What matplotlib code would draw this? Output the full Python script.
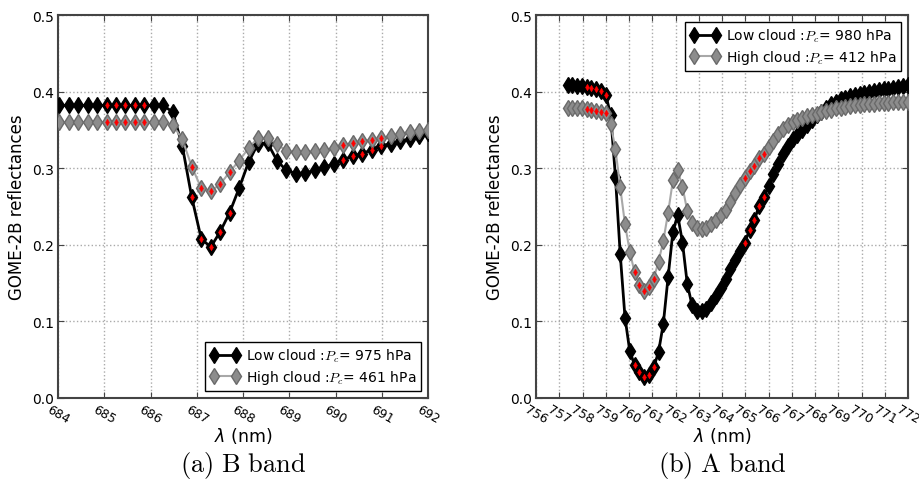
import matplotlib
matplotlib.use("Agg")
import matplotlib.pyplot as plt
from matplotlib.font_manager import FontProperties

# ---------------- data: B band ----------------
wl_b = [684.027, 684.231, 684.436, 684.641, 684.845, 685.050, 685.255, 685.459,
        685.664, 685.869, 686.074, 686.278, 686.483, 686.688, 686.892, 687.097,
        687.302, 687.506, 687.711, 687.916, 688.121, 688.325, 688.530, 688.735,
        688.939, 689.144, 689.349, 689.553, 689.758, 689.963, 690.168, 690.372,
        690.577, 690.782, 690.986, 691.191, 691.396, 691.600, 691.805, 692.010]
low_b = [0.382, 0.382, 0.382, 0.382, 0.382, 0.382, 0.382, 0.382,
         0.382, 0.382, 0.382, 0.382, 0.373, 0.329, 0.262, 0.208,
         0.197, 0.217, 0.242, 0.274, 0.308, 0.332, 0.333, 0.310,
         0.297, 0.293, 0.294, 0.297, 0.301, 0.306, 0.311, 0.316,
         0.319, 0.324, 0.329, 0.332, 0.335, 0.338, 0.342, 0.346]
high_b = [0.360, 0.360, 0.360, 0.360, 0.360, 0.360, 0.360, 0.360,
          0.360, 0.360, 0.360, 0.360, 0.356, 0.338, 0.302, 0.274,
          0.270, 0.279, 0.295, 0.310, 0.326, 0.340, 0.339, 0.332,
          0.322, 0.321, 0.321, 0.322, 0.324, 0.326, 0.330, 0.333,
          0.335, 0.337, 0.339, 0.342, 0.345, 0.347, 0.349, 0.350]
sel_b = [5, 6, 7, 8, 9, 14, 15, 16, 17, 18, 30, 31, 32, 33, 34]

# ---------------- data: A band ----------------
wl_a = [757.356, 757.562, 757.768, 757.974, 758.180, 758.386, 758.592, 758.798,
        759.004, 759.210, 759.416, 759.622, 759.828, 760.034, 760.240, 760.446,
        760.652, 760.858, 761.064, 761.270, 761.476, 761.682, 761.888, 762.094,
        762.300, 762.506, 762.712, 762.918, 763.124, 763.330, 763.536, 763.742,
        763.948, 764.154, 764.360, 764.566, 764.772, 764.978, 765.184, 765.390,
        765.596, 765.802, 766.008, 766.214, 766.420, 766.626, 766.832, 767.038,
        767.244, 767.450, 767.656, 767.862, 768.068, 768.274, 768.480, 768.686,
        768.892, 769.098, 769.304, 769.510, 769.716, 769.922, 770.128, 770.334,
        770.540, 770.746, 770.952, 771.158, 771.364, 771.570, 771.776, 771.982]
low_a = [0.408, 0.408, 0.407, 0.407, 0.406, 0.405, 0.403, 0.401,
         0.395, 0.370, 0.289, 0.188, 0.105, 0.061, 0.043, 0.034,
         0.028, 0.030, 0.040, 0.060, 0.097, 0.158, 0.217, 0.239,
         0.203, 0.149, 0.121, 0.114, 0.113, 0.116, 0.124, 0.133,
         0.144, 0.156, 0.168, 0.180, 0.192, 0.203, 0.219, 0.232,
         0.251, 0.263, 0.277, 0.292, 0.306, 0.318, 0.329, 0.338,
         0.343, 0.350, 0.357, 0.363, 0.369, 0.374, 0.379, 0.384,
         0.387, 0.390, 0.392, 0.394, 0.396, 0.397, 0.398, 0.399,
         0.401, 0.402, 0.403, 0.404, 0.405, 0.406, 0.407, 0.408]
high_a = [0.378, 0.378, 0.378, 0.378, 0.377, 0.376, 0.375, 0.374,
          0.372, 0.358, 0.325, 0.275, 0.227, 0.191, 0.164, 0.148,
          0.140, 0.145, 0.156, 0.178, 0.205, 0.242, 0.284, 0.297,
          0.276, 0.244, 0.229, 0.222, 0.220, 0.222, 0.227, 0.233,
          0.239, 0.245, 0.256, 0.268, 0.278, 0.287, 0.296, 0.303,
          0.313, 0.319, 0.328, 0.336, 0.345, 0.351, 0.356, 0.360,
          0.363, 0.366, 0.368, 0.370, 0.371, 0.373, 0.375, 0.376,
          0.378, 0.379, 0.380, 0.381, 0.382, 0.383, 0.384, 0.384,
          0.384, 0.385, 0.385, 0.385, 0.386, 0.386, 0.386, 0.386]
sel_a = [4, 5, 6, 7, 8, 14, 15, 16, 17, 18, 37, 38, 39, 40, 41]

xticks_b = list(range(684, 693))
xticks_a = list(range(756, 773))
yticks = [0.0, 0.1, 0.2, 0.3, 0.4, 0.5]

label_low_b = r'Low cloud :$P_c$= 975 hPa'
label_high_b = r'High cloud :$P_c$= 461 hPa'
label_low_a = r'Low cloud :$P_c$= 980 hPa'
label_high_a = r'High cloud :$P_c$= 412 hPa'
caption_b = r'$\mathrm{(a)\ B\ band}$'
caption_a = r'$\mathrm{(b)\ A\ band}$'

# ---------------- figure ----------------
fig = plt.figure(figsize=(9.2, 4.81), dpi=100)
ax1 = fig.add_axes([58/920, 1-399/481, 370/920, 383/481])
ax2 = fig.add_axes([536/920, 1-399/481, 372/920, 383/481])

spine_col = '#444444'


def draw(ax, wl, low, high, sel, xt, lab_low, lab_high, loc, caption):
    ax.plot(wl, low, '-', color='black', lw=2.0, marker='d', ms=8.5,
            mfc='black', mec='black', mew=1.0, label=lab_low, zorder=3)
    ax.plot(wl, high, '-', color='#a8a8a8', lw=1.5, marker='d', ms=8.5,
            mfc='#8c8c8c', mec='#6a6a6a', mew=1.0, label=lab_high, zorder=4)
    ax.plot([wl[i] for i in sel], [low[i] for i in sel], 'd', ms=3.4,
            color='red', mec='red', mew=0.3, ls='none', zorder=5)
    ax.plot([wl[i] for i in sel], [high[i] for i in sel], 'd', ms=3.4,
            color='red', mec='red', mew=0.3, ls='none', zorder=6)
    ax.set_xlim(xt[0], xt[-1])
    ax.set_ylim(0, 0.5)
    ax.set_xticks(xt)
    ax.set_yticks(yticks)
    ax.set_xticklabels([str(v) for v in xt], rotation=-30, fontsize=9)
    ax.set_yticklabels(['%.1f' % v for v in yticks], fontsize=10)
    ax.tick_params(direction='in', top=True, right=True, length=4,
                   color=spine_col, pad=3)
    ax.grid(True, ls=':', color='#aaaaaa', lw=1.0)
    ax.set_axisbelow(True)
    for s in ax.spines.values():
        s.set_color(spine_col)
        s.set_linewidth(1.5)
    ax.set_ylabel('GOME-2B reflectances', fontsize=12)
    ax.set_xlabel(r'$\lambda$ (nm)', fontsize=12.5, labelpad=0)
    leg = ax.legend(loc=loc, numpoints=2, fancybox=False, framealpha=1,
                    edgecolor='black', borderaxespad=0.5,
                    handlelength=2.2, handletextpad=0.4, borderpad=0.35,
                    labelspacing=0.3,
                    prop=FontProperties(size=10, math_fontfamily='cm'))
    leg.get_frame().set_linewidth(1.0)
    pos = ax.get_position()
    fig.text((pos.x0 + pos.x1) / 2, 1 - 472/481, caption, ha='center',
             va='baseline', fontsize=19, math_fontfamily='cm')


draw(ax1, wl_b, low_b, high_b, sel_b, xticks_b, label_low_b, label_high_b,
     'lower right', caption_b)
draw(ax2, wl_a, low_a, high_a, sel_a, xticks_a, label_low_a, label_high_a,
     'upper right', caption_a)

fig.savefig('out.png', dpi=100)
